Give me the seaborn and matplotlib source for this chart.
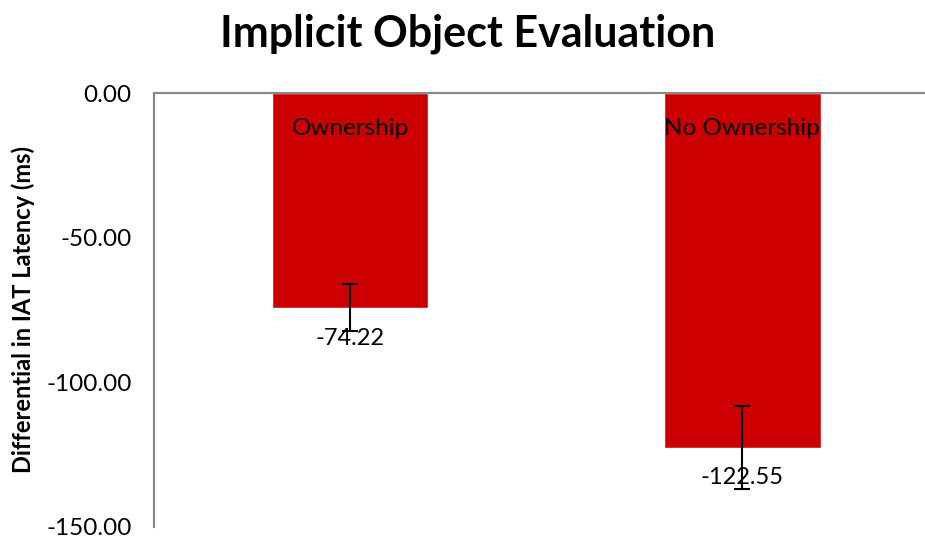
import matplotlib
matplotlib.use("Agg")
import matplotlib.pyplot as plt
import pandas as pd
import seaborn as sns

conditions = ["Ownership", "No Ownership"]
means = [-74.22, -122.55]
errors = [8.2, 14.2]
y_ticks = [0, -50, -100, -150]

sns.set_style("white")
plt.rcParams["font.family"] = ["Lato", "DejaVu Sans"]
plt.rcParams["text.color"] = "black"
plt.rcParams["ytick.color"] = "black"
plt.rcParams["axes.labelcolor"] = "black"

df = pd.DataFrame({"condition": conditions, "mean": means})

fig = plt.figure(figsize=(9.25, 5.41), dpi=100)
ax = fig.add_axes([0.1665, 0.026, 0.835, 0.802])

sns.barplot(data=df, x="condition", y="mean", color="#CC0000", width=0.4,
            saturation=1, errorbar=None, ax=ax)
ax.errorbar(range(len(means)), means, yerr=errors, fmt="none",
            ecolor="black", elinewidth=1.5, capsize=6, capthick=1.5)

for i, (name, val) in enumerate(zip(conditions, means)):
    ax.text(i, -12.3, name, ha="center", va="center", fontsize=17.5)
    ax.text(i, val - 10.5, f"{val:.2f}", ha="center", va="center", fontsize=17)

ax.set_ylim(-150, 0)
ax.set_xlim(-0.5, 1.47)
ax.set_yticks(y_ticks)
ax.set_yticklabels([f"{t:.2f}" for t in y_ticks], fontsize=17.5)
ax.tick_params(axis="y", length=0, pad=16)
ax.set_xticks([])
ax.set_xlabel("")
ax.set_ylabel("Differential in IAT Latency (ms)", fontsize=17, fontweight="bold", labelpad=8)

for side in ["right", "bottom"]:
    ax.spines[side].set_visible(False)
for side in ["left", "top"]:
    ax.spines[side].set_color("#888888")
    ax.spines[side].set_linewidth(1.5)

fig.text(0.506, 0.937, "Implicit Object Evaluation", ha="center", va="center",
         fontsize=31, fontweight="bold")

fig.savefig("out.png", dpi=100)
